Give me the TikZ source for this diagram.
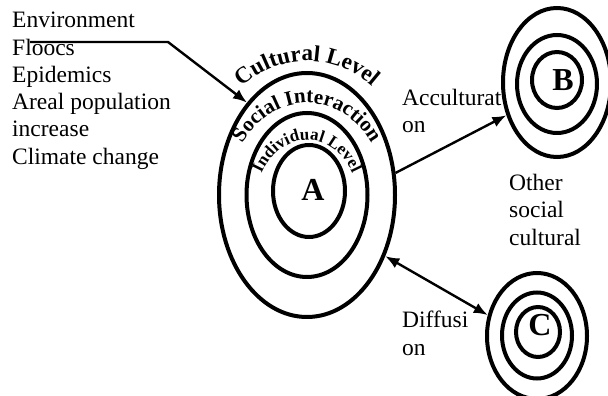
\documentclass[tikz,border=0pt]{standalone}
\usepackage{fontspec}
\setmainfont{Liberation Serif}
\newfontfamily\arcfont{Liberation Serif}
\usepackage{tikz}
\usetikzlibrary{shapes.geometric,arrows.meta,decorations.text}
\tikzstyle{ring}=[draw,
ellipse,
line width=4pt,
inner sep=0,
]
\tikzstyle{plain}=[inner sep=0,
align=left,
font=\fontsize{23.5}{27.3}\selectfont,
]
\tikzstyle{letter}=[inner sep=0,
font=\bfseries\fontsize{32}{32}\selectfont,
]
\tikzstyle{flow}=[line width=2.4pt,
-{Latex[length=14pt,width=11pt]},
]

\begin{document}
\begin{tikzpicture}[x=1pt, y=1pt]
        \useasboundingbox (0,0) rectangle (608,396);
        \node[plain, anchor=north west] (factors) at (12,384) {Environment\\Floocs\\Epidemics\\Areal population\\increase\\Climate change};
        \node[plain, anchor=north west] (accult) at (402,307) {Acculturat\\on};
        \node[plain, anchor=north west] (other) at (509,222) {Other\\social\\cultural};
        \node[plain, anchor=north west] (diffusion) at (402,85) {Diffusi\\on};

        \node[ring, minimum width=176pt, minimum height=244pt] (a_outer) at (307,201) {};
        \node[ring, minimum width=121pt, minimum height=164pt] (a_middle) at (307,201) {};
        \node[ring, minimum width=72pt, minimum height=92pt] (a_inner) at (309,205) {};
        \node[letter] (a_name) at (313,206) {A};

        \node[ring, minimum width=108pt, minimum height=149pt] (b_outer) at (557,313.5) {};
        \node[ring, minimum width=80pt, minimum height=98pt] (b_middle) at (557,312) {};
        \node[ring, minimum width=50pt, minimum height=56pt] (b_inner) at (557,316) {};
        \node[letter] (b_name) at (563,316) {B};

        \node[ring, minimum width=100pt, minimum height=126pt] (c_outer) at (537,60) {};
        \node[ring, minimum width=70pt, minimum height=86pt] (c_middle) at (537,60.5) {};
        \node[ring, minimum width=44pt, minimum height=50pt] (c_inner) at (538,64) {};
        \node[letter] (c_name) at (540,71) {C};

        \path[decorate, decoration={text along path, text align=center,
        text={|\arcfont\bfseries\fontsize{23}{23}\selectfont|Cultural Level}}]
        (307,201) ++(150:111 and 134) arc[start angle=150, end angle=30, x radius=111, y radius=134];
        \path[decorate, decoration={text along path, text align=center,
        text={|\arcfont\bfseries\fontsize{21}{21}\selectfont|Social Interaction}}]
        (307,201) ++(158:78 and 92) arc[start angle=158, end angle=22, x radius=78, y radius=92];
        \path[decorate, decoration={text along path, text align=center,
        text={|\arcfont\bfseries\fontsize{17}{17}\selectfont|Individual Level}}]
        (307,191) ++(150:52 and 65) arc[start angle=150, end angle=30, x radius=52, y radius=65];

        \coordinate (line_start) at (30,354);
        \coordinate (line_end) at (168,354);
        \draw[flow] (line_start) -- (line_end) -- (a_outer.123);
        \draw[flow] (a_outer.14) -- (b_outer.213);
        \draw[flow, {Latex[length=14pt,width=11pt]}-{Latex[length=14pt,width=11pt]}] (a_outer.-38) -- (c_outer.157);
    \end{tikzpicture}
\end{document}
